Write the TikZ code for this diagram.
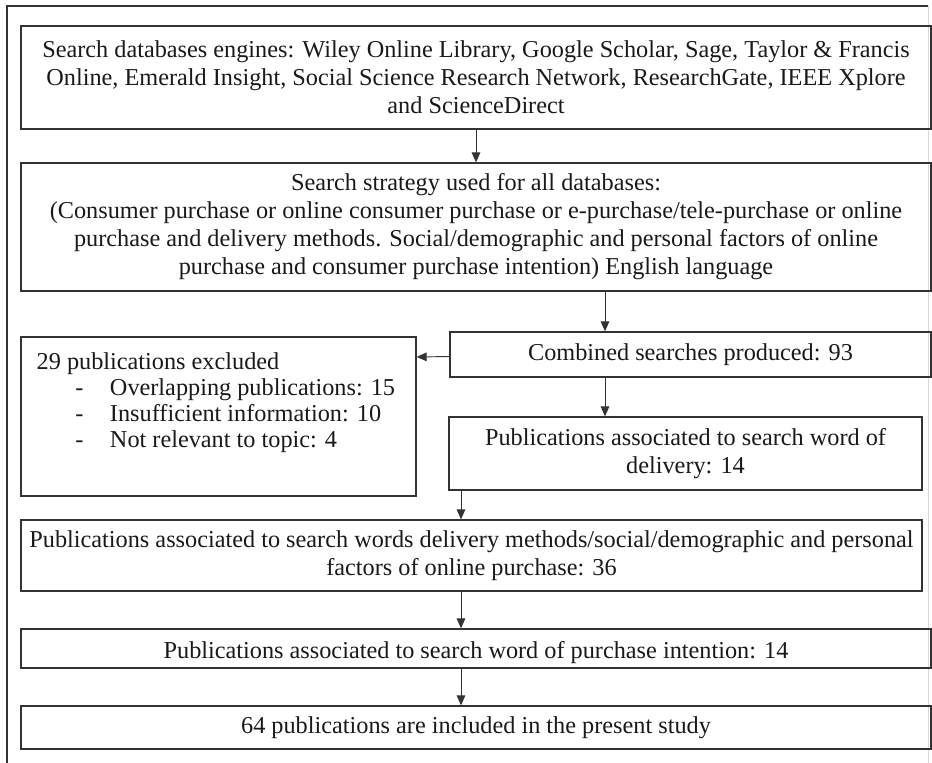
\documentclass[tikz,border=0pt]{standalone}
\usepackage{fontspec}
\setmainfont{Liberation Serif}
\usetikzlibrary{arrows.meta}

\begin{document}
\begin{tikzpicture}[x=0.75pt,y=-0.75pt,
    box/.style={draw=black!80,line width=1pt,inner sep=0pt,align=center,
      font=\fontsize{18.2}{21}\selectfont,text=black!90},
    arr/.style={draw=black!80,line width=0.7pt,-{Triangle[length=7.5pt,width=6.5pt]}}]
          \useasboundingbox (0,0) rectangle (932,763);
          \draw[black!80,line width=0.8pt] (7,763) -- (7,6) -- (928,6);
          \draw[black!15,line width=0.6pt] (928,6) -- (928,763);

          \node[box,minimum width=682.5pt,minimum height=77.25pt] (db) at (476,77.5)
            {Search databases engines: Wiley Online Library, Google Scholar, Sage, Taylor \& Francis\\
             Online, Emerald Insight, Social Science Research Network, ResearchGate, IEEE Xplore\\
             and ScienceDirect};
          \node[box,minimum width=682.5pt,minimum height=96pt] (strat) at (476,227)
            {Search strategy used for all databases:\\
             (Consumer purchase or online consumer purchase or e-purchase/tele-purchase or online\\
             purchase and delivery methods. Social/demographic and personal factors of online\\
             purchase and consumer purchase intention) English language};
          \node[box,minimum width=360.75pt,minimum height=33.75pt] (comb) at (690.5,354.5)
            {Combined searches produced: 93};
          \node[box,minimum width=296.25pt,minimum height=119.25pt] (excl) at (218.5,416.5) {};
          \node[box,draw=none,anchor=north west,align=left,font=\fontsize{18.2}{19.5}\selectfont] (excltxt) at (36,352)
            {29 publications excluded\\
             \hspace*{29pt}\makebox[26pt][l]{-}Overlapping publications: 15\\
             \hspace*{29pt}\makebox[26pt][l]{-}Insufficient information: 10\\
             \hspace*{29pt}\makebox[26pt][l]{-}Not relevant to topic: 4};
          \node[box,minimum width=354.75pt,minimum height=54.75pt] (deliv) at (685.5,453.5)
            {Publications associated to search word of\\ delivery: 14};
          \node[box,minimum width=675.75pt,minimum height=53.25pt] (words) at (471.5,555.5)
            {Publications associated to search words delivery methods/social/demographic and personal\\
             factors of online purchase: 36};
          \node[box,minimum width=682.5pt,minimum height=29.25pt] (intent) at (476,648.5)
            {\raisebox{-3pt}[\height][\depth]{Publications associated to search word of purchase intention: 14}};
          \node[box,minimum width=682.5pt,minimum height=32.25pt] (incl) at (476,727.5)
            {64 publications are included in the present study};

          \coordinate (c1) at (605,0);
          \coordinate (c2) at (461,0);
          \draw[arr] (db.south) -- (strat.north);
          \draw[arr] (strat.south -| c1) -- (comb.north -| c1);
          \draw[arr] (comb.west) ++(0,2) -- (excl.east |- 0,357);
          \draw[arr] (comb.south -| c1) -- (deliv.north -| c1);
          \draw[arr] (deliv.south -| c2) -- (words.north -| c2);
          \draw[arr] (words.south -| c2) -- (intent.north -| c2);
          \draw[arr] (intent.south -| c2) -- (incl.north -| c2);

        \end{tikzpicture}
\end{document}
